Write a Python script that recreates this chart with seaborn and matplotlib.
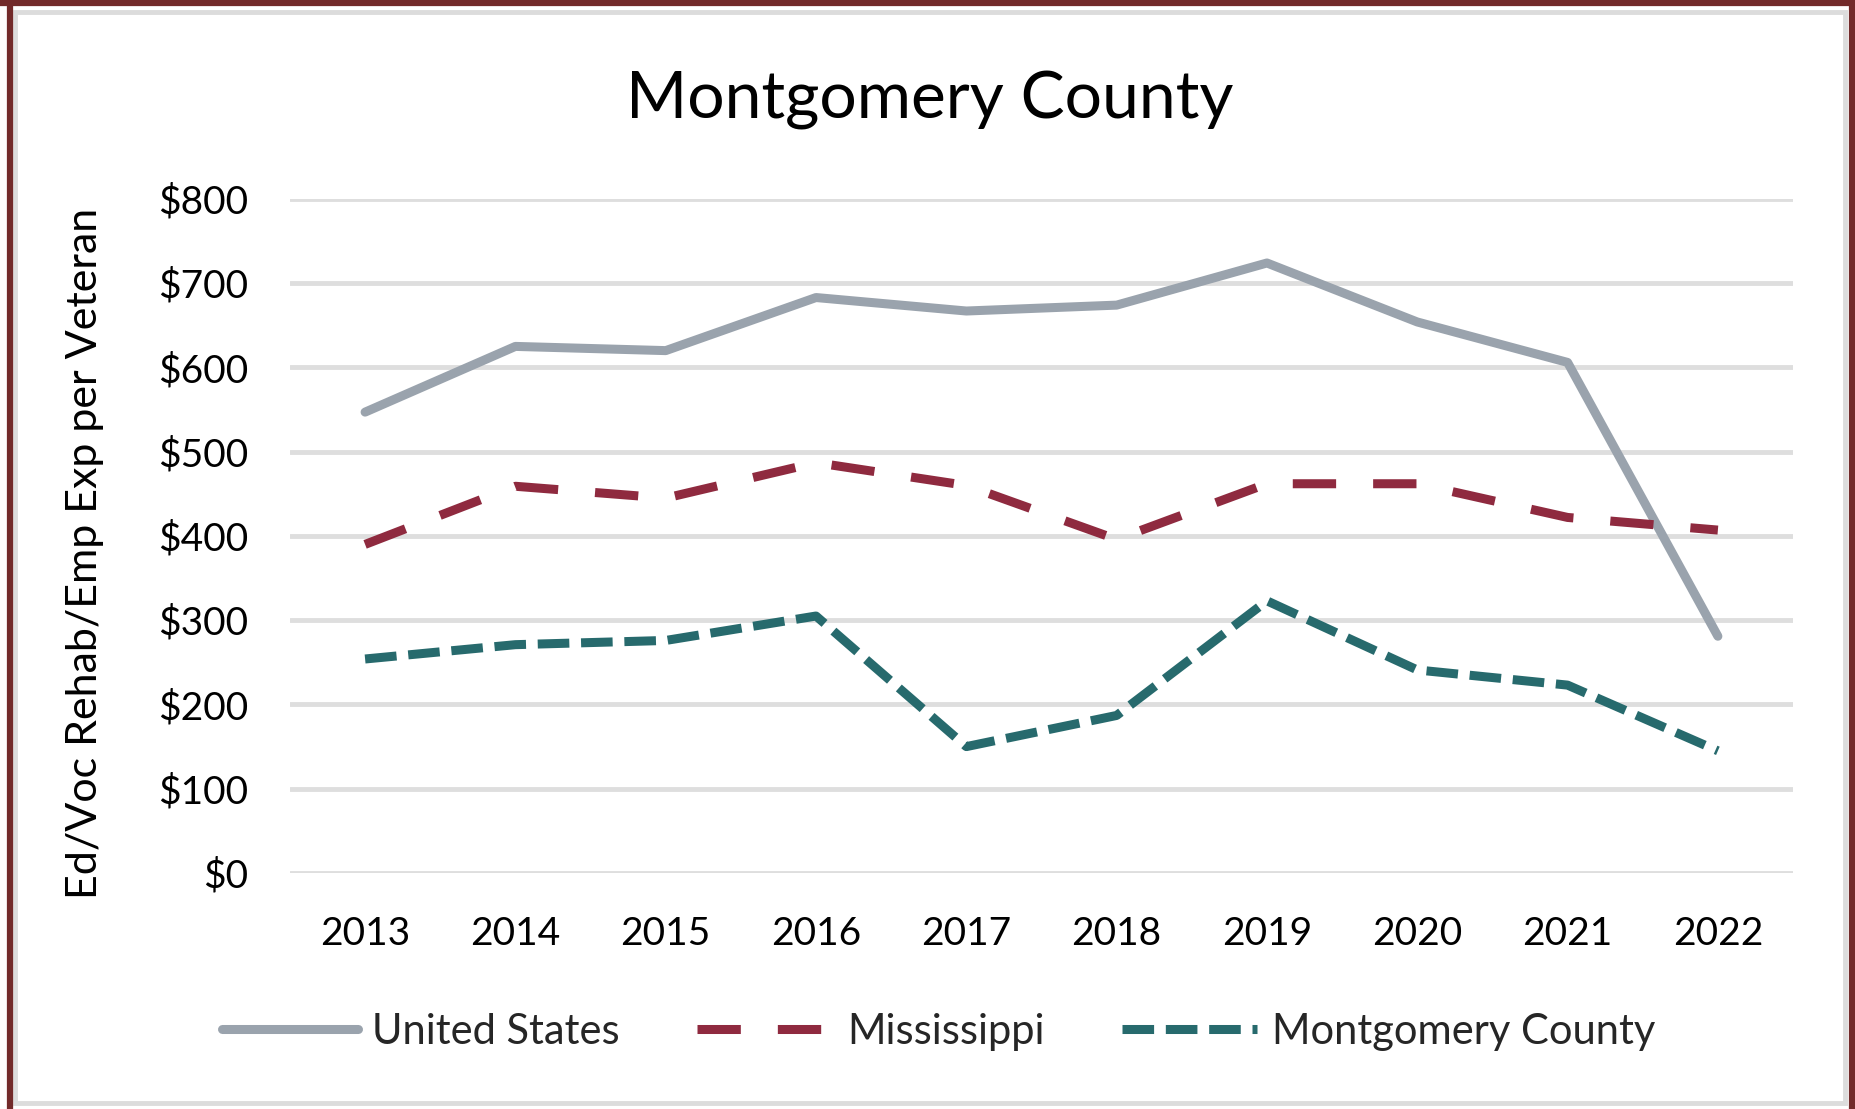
import numpy as np
import pandas as pd
import seaborn as sns
import matplotlib.pyplot as plt
from matplotlib.lines import Line2D
from matplotlib.patches import Rectangle

years = ["2013", "2014", "2015", "2016", "2017", "2018", "2019", "2020", "2021", "2022"]
united_states = [547, 625, 620, 683, 667, 674, 724, 654, 606, 281]
mississippi = [390, 459, 445, 487, 460, 396, 462, 462, 422, 407]
montgomery = [254, 271, 276, 305, 150, 187, 323, 241, 223, 145]
series_names = ["United States", "Mississippi", "Montgomery County"]
y_ticks = [0, 100, 200, 300, 400, 500, 600, 700, 800]

df = pd.DataFrame({
    "year": years * 3,
    "value": united_states + mississippi + montgomery,
    "series": np.repeat(series_names, len(years)),
})

sns.set_style("white")
plt.rcParams["font.family"] = ["Lato", "DejaVu Sans"]

fig = plt.figure(figsize=(18.55, 11.09), dpi=100)
ax = fig.add_axes([0.1563, 0.2128, 0.8103, 0.6078])

palette = {"United States": "#9AA3AD", "Mississippi": "#8F2A3F", "Montgomery County": "#276A6D"}
dashes = {"United States": "", "Mississippi": (4.8, 4.1), "Montgomery County": (3.5, 1.3)}
sns.lineplot(data=df, x="year", y="value", hue="series", style="series",
             palette=palette, dashes=dashes, linewidth=6.5, sort=False, ax=ax)
for ln in ax.lines:
    ln.set_clip_on(False)

ax.set_xlim(-0.5, 9.5)
ax.set_ylim(0, 800)
ax.set_yticks(y_ticks)
ax.set_yticklabels([f"${v}" for v in y_ticks])
ax.yaxis.grid(True, color="#dedede", linewidth=3.5)
ax.set_axisbelow(True)
for s in ax.spines.values():
    s.set_visible(False)
ax.tick_params(axis="both", length=0, labelsize=28, colors="black")
ax.tick_params(axis="y", pad=30)
ax.tick_params(axis="x", pad=31)
ax.set_xlabel("")
ax.set_ylabel("")

handles, labels = ax.get_legend_handles_labels()
ax.get_legend().remove()
fig.legend(handles, labels, loc="center", bbox_to_anchor=(0.506, 0.0694), ncol=3,
           frameon=False, fontsize=30, handlelength=3.25, handletextpad=0.35,
           columnspacing=1.85)

fig.text(0.501, 1 - 118 / 1109, "Montgomery County", ha="center", va="baseline",
         fontsize=47.5, color="black")
fig.text(0.046, 0.501, "Ed/Voc Rehab/Emp Exp per Veteran", rotation=90,
         ha="center", va="center", fontsize=31, color="black")

# frame around the chart
W, H = 1855, 1109
fig.patches.append(Rectangle((15 / W, 6 / H), (1845 - 15) / W, (1097 - 6) / H,
                             transform=fig.transFigure, fill=False,
                             edgecolor="#dcdcdc", linewidth=3.5))
for xs, ys in [((9.5, 9.5), (0, H)), ((0, W), (H - 3, H - 3)), ((1852, 1852), (0, H))]:
    fig.lines.append(Line2D([x / W for x in xs], [y / H for y in ys],
                            transform=fig.transFigure, color="#722a2a", linewidth=4.5))

fig.savefig("out.png", dpi=100)
